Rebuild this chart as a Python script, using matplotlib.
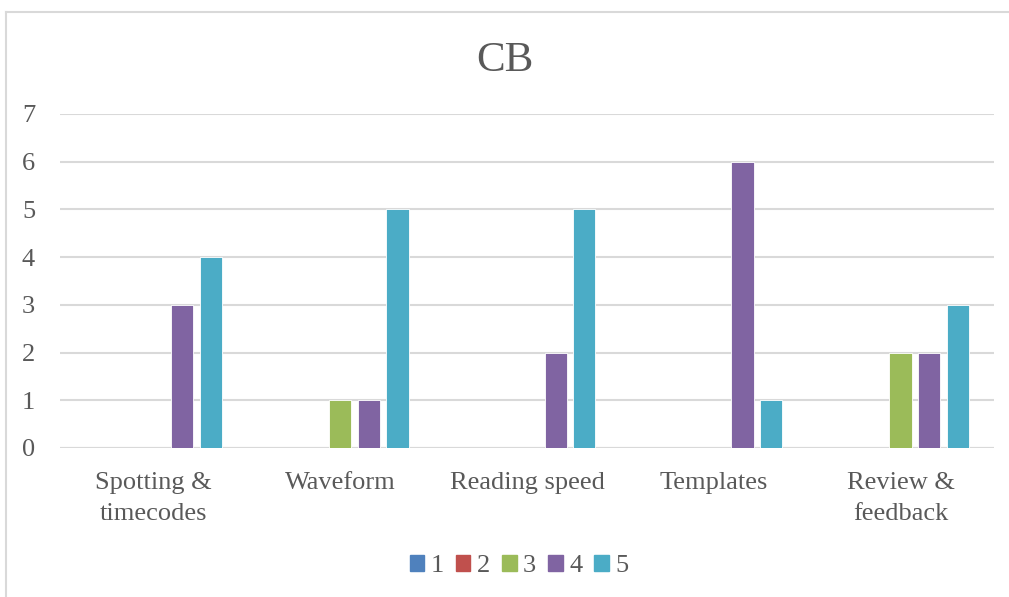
import numpy as np
import matplotlib.pyplot as plt
from matplotlib.lines import Line2D

plt.rcParams['font.family'] = ['Liberation Serif', 'DejaVu Serif']

categories = ['Spotting &\ntimecodes', 'Waveform', 'Reading speed', 'Templates', 'Review &\nfeedback']
series_names = ['1', '2', '3', '4', '5']
s1 = [0, 0, 0, 0, 0]
s2 = [0, 0, 0, 0, 0]
s3 = [0, 1, 0, 0, 2]
s4 = [3, 1, 2, 6, 2]
s5 = [4, 5, 5, 1, 3]
colors = ['#4F81BD', '#C0504D', '#9BBB59', '#8064A2', '#4BACC6']

txt = '#595959'
grid = '#D9D9D9'

fig = plt.figure(figsize=(10.09, 5.97), dpi=100)
ax = fig.add_axes([60/1009, 1-448/597, 934/1009, (448-114)/597])

x = np.arange(len(categories))
step = 0.1536
w = 0.119
for i, vals in enumerate([s1, s2, s3, s4, s5]):
    ax.bar(x + (i-2)*step, vals, w, color=colors[i], edgecolor='white',
           linewidth=0.6, label=series_names[i], zorder=3)

ax.set_xlim(-0.5, len(categories)-0.5)
ax.set_ylim(0, 7)
ax.set_yticks(range(0, 8))
ax.yaxis.grid(True, color=grid, linewidth=1.5, zorder=0)
for s in ax.spines.values():
    s.set_visible(False)
ax.tick_params(axis='both', length=0, labelsize=19, colors=txt)
ax.tick_params(axis='y', pad=18)
ax.tick_params(axis='x', pad=17)
ax.set_xticks(x)
ax.set_xticklabels(categories, linespacing=1.55)
ax.axhline(0, color=grid, linewidth=1.5, zorder=2)

fig.text(0.5, 1-61/597, 'CB', ha='center', va='center', fontsize=31, color=txt)

handles = [plt.Rectangle((0, 0), 1, 1, color=c) for c in colors]
fig.legend(handles, series_names, loc='center', bbox_to_anchor=(519/1009, 1-566/597),
           ncol=5, frameon=False, fontsize=19, handlelength=0.55, handleheight=0.55,
           handletextpad=0.25, columnspacing=0.45, labelcolor=txt)

# outer chart border (left and top visible)
fig.add_artist(Line2D([6/1009, 6/1009], [0, 1-12/597], color=grid, linewidth=1.5))
fig.add_artist(Line2D([6/1009, 1], [1-12/597, 1-12/597], color=grid, linewidth=1.5))

fig.savefig('out.png', dpi=100)
